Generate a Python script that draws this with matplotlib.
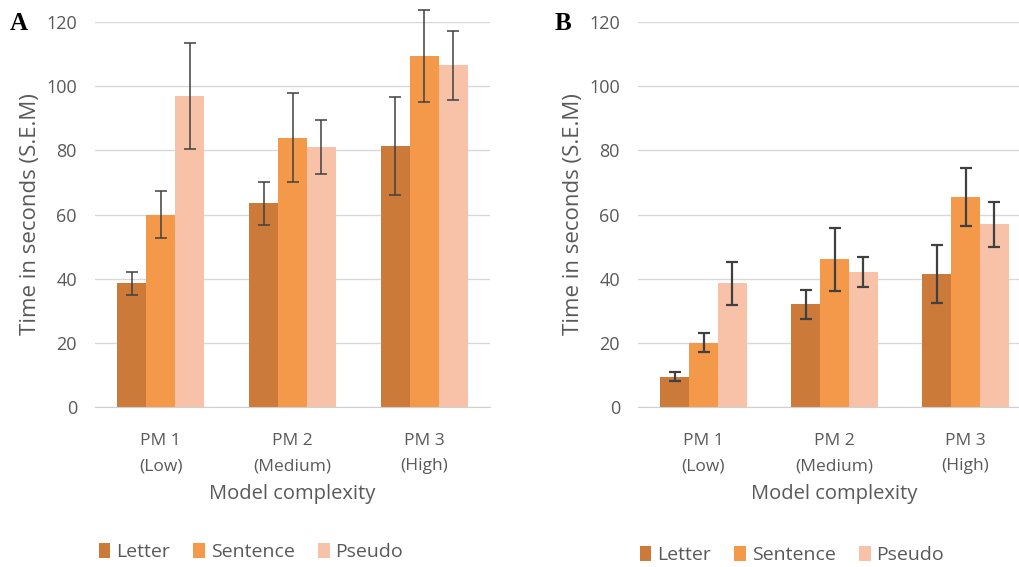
import matplotlib
matplotlib.use("Agg")
import matplotlib.pyplot as plt
import numpy as np

plt.rcParams['font.family'] = ['Open Sans', 'DejaVu Sans']

# data
categories = ["PM 1\n(Low)", "PM 2\n(Medium)", "PM 3\n(High)"]
series = ["Letter", "Sentence", "Pseudo"]

a_means = {
    "Letter": [38.5, 63.5, 81.3],
    "Sentence": [60.0, 84.0, 109.5],
    "Pseudo": [97.0, 81.0, 106.5],
}
a_errs = {
    "Letter": [3.5, 6.7, 15.2],
    "Sentence": [7.2, 13.8, 14.3],
    "Pseudo": [16.5, 8.5, 10.8],
}
b_means = {
    "Letter": [9.5, 32.0, 41.5],
    "Sentence": [20.0, 46.0, 65.5],
    "Pseudo": [38.5, 42.0, 57.0],
}
b_errs = {
    "Letter": [1.5, 4.5, 9.0],
    "Sentence": [3.0, 9.7, 9.0],
    "Pseudo": [6.7, 4.7, 7.0],
}

colors = {"Letter": "#CB7A39", "Sentence": "#F4984A", "Pseudo": "#F8C2A8"}
text_grey = "#595959"

W, H = 1019, 567
fig = plt.figure(figsize=(W / 100, H / 100), dpi=100)


def px_axes(left, top, right, bottom):
    return fig.add_axes([left / W, 1 - bottom / H, (right - left) / W, (bottom - top) / H])


def draw_panel(ax, means, errs, err_lw):
    x = np.arange(len(categories))
    width = 0.22
    for i, name in enumerate(series):
        ax.bar(x + (i - 1) * width, means[name], width, color=colors[name],
               label=name, zorder=2)
        ax.errorbar(x + (i - 1) * width, means[name], yerr=errs[name], fmt="none",
                    ecolor="#404040", elinewidth=err_lw, capsize=4, capthick=err_lw,
                    zorder=3, clip_on=False)
    ax.set_xlim(-0.5, 2.5)
    ax.set_ylim(0, 120)
    ax.set_yticks(range(0, 121, 20))
    ax.yaxis.grid(True, color="#D9D9D9", lw=1, zorder=0)
    ax.set_axisbelow(True)
    for s in ["top", "right", "left"]:
        ax.spines[s].set_visible(False)
    ax.spines["bottom"].set_color("#D0D0D0")
    ax.tick_params(length=0, colors=text_grey, labelsize=13)
    ax.tick_params(axis="y", pad=13)
    ax.tick_params(axis="x", pad=19)
    ax.set_xticks(x)
    ax.set_xticklabels(categories, linespacing=1.75, fontsize=12.5)
    ax.set_xlabel("Model complexity", color=text_grey, fontsize=14.5, labelpad=7)
    ax.set_ylabel("Time in seconds (S.E.M)", color=text_grey, fontsize=16, labelpad=4)


ax_a = px_axes(95, 22, 490, 407)
draw_panel(ax_a, a_means, a_errs, 1.1)
ax_b = px_axes(638, 22, 1031, 407)
draw_panel(ax_b, b_means, b_errs, 1.6)

for ax, lx, ly in [(ax_a, 81, 552), (ax_b, 622, 555)]:
    ax.legend(loc="center left", bbox_to_anchor=(lx / W, 1 - ly / H),
              bbox_transform=fig.transFigure, ncol=3, frameon=False,
              handlelength=0.6, handleheight=0.8, handletextpad=0.3,
              columnspacing=1.2, fontsize=14, labelcolor=text_grey)

fig.text(10 / W, 1 - 24 / H, "A", fontsize=18, fontweight="bold",
         family="Liberation Serif", va="center")
fig.text(555 / W, 1 - 24 / H, "B", fontsize=18, fontweight="bold",
         family="Liberation Serif", va="center")

fig.savefig("out.png", dpi=100)
